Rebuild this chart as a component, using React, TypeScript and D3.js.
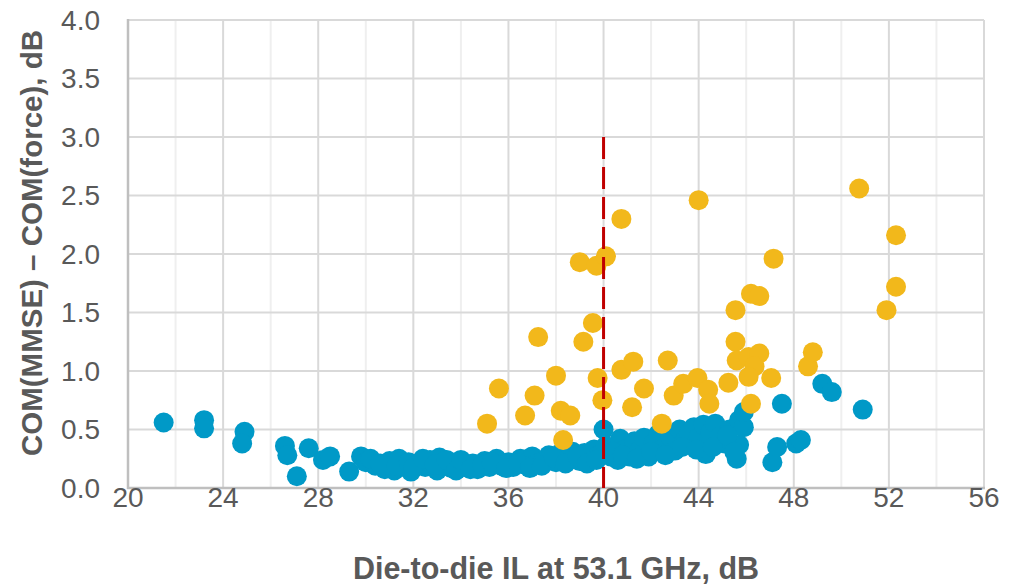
import React from "react";
import { scaleLinear, range } from "d3";

// x: die-to-die IL (dB), y: COM(MMSE) - COM(force) (dB)
const blueX = [
  21.5, 23.2, 23.2, 24.9, 24.8, 26.6, 26.7, 27.1, 27.6, 28.2, 28.5, 29.3, 29.8, 30.0,
  30.4, 30.8, 31.0, 31.2, 31.4, 31.6, 31.9, 32.2, 32.5, 32.7, 33.0, 33.1, 33.3, 33.6,
  33.9, 34.2, 34.5, 34.7, 35.0, 35.2, 35.5, 35.7, 36.0, 36.2, 36.5, 36.7, 37.0, 37.2,
  37.5, 37.7, 38.0, 38.2, 38.5, 38.7, 39.0, 39.2, 39.4, 39.6, 39.8, 40.0, 40.1, 40.3,
  40.6, 40.7, 40.9, 41.1, 41.3, 41.5, 41.7, 41.9, 42.1, 42.3, 42.5, 42.8, 43.0, 43.2,
  43.4, 43.6, 43.8, 44.0, 44.2, 44.3, 44.5, 44.7, 44.9, 45.1, 45.3, 45.6, 45.7, 45.7,
  45.9, 45.9, 47.1, 47.3, 47.5, 48.1, 48.3, 49.2, 49.6, 50.9,
  30.2, 30.6, 31.3, 31.8, 32.0, 32.4, 32.9, 33.4, 33.8, 34.0, 34.4, 34.9, 35.3, 35.9,
  36.4, 36.9, 37.4, 37.9, 38.4, 38.9, 39.3, 39.7, 40.4, 40.8, 41.4, 42.0, 42.6, 43.3,
  43.9, 44.6, 45.2, 45.5,
];
const blueY = [
  0.56, 0.58, 0.51, 0.48, 0.38, 0.36, 0.28, 0.10, 0.34, 0.24, 0.27, 0.14, 0.27, 0.22,
  0.19, 0.16, 0.23, 0.15, 0.25, 0.18, 0.14, 0.21, 0.18, 0.24, 0.15, 0.26, 0.19, 0.17,
  0.22, 0.18, 0.21, 0.16, 0.23, 0.18, 0.25, 0.19, 0.22, 0.18, 0.25, 0.2, 0.27, 0.21,
  0.24, 0.28, 0.22, 0.3, 0.25, 0.31, 0.23, 0.3, 0.24, 0.33, 0.28, 0.5, 0.36, 0.27,
  0.24, 0.42, 0.33, 0.27, 0.4, 0.32, 0.43, 0.27, 0.38, 0.46, 0.34, 0.44, 0.32, 0.5,
  0.4, 0.47, 0.52, 0.43, 0.54, 0.29, 0.48, 0.55, 0.44, 0.38, 0.5, 0.25, 0.37, 0.58,
  0.52, 0.65, 0.22, 0.35, 0.72, 0.38, 0.41, 0.89, 0.82, 0.67,
  0.25, 0.21, 0.19, 0.22, 0.17, 0.25, 0.2, 0.24, 0.15, 0.24, 0.16, 0.19, 0.22, 0.17,
  0.21, 0.17, 0.19, 0.26, 0.21, 0.27, 0.21, 0.24, 0.31, 0.28, 0.25, 0.31, 0.28, 0.35,
  0.33, 0.35, 0.45, 0.31,
];
const yellowX = [
  35.1, 35.6, 36.7, 37.1, 37.25, 38.0, 38.2, 38.3, 38.6, 39.0, 39.15, 39.55, 39.7, 40.1,
  39.75, 39.95, 40.75, 40.75, 41.2, 41.25, 41.7, 42.45, 42.7, 42.95, 43.35, 43.95, 44.0,
  44.4, 44.45, 45.25, 45.55, 45.55, 45.6, 46.1, 46.2, 46.55, 46.55, 46.35, 46.1, 46.2,
  47.05, 47.15, 48.6, 48.8, 50.75, 51.9, 52.3, 52.3,
];
const yellowY = [
  0.55, 0.85, 0.62, 0.79, 1.29, 0.96, 0.66, 0.41, 0.62, 1.93, 1.25, 1.41, 1.9, 1.98,
  0.94, 0.75, 2.3, 1.01, 0.69, 1.08, 0.85, 0.55, 1.09, 0.79, 0.89, 0.94, 2.46,
  0.84, 0.72, 0.9, 1.52, 1.25, 1.09, 1.12, 1.66, 1.64, 1.15, 1.04, 0.95, 0.72,
  0.94, 1.96, 1.04, 1.16, 2.56, 1.52, 1.72, 2.16,
];
const xTicks = [20, 24, 28, 32, 36, 40, 44, 48, 52, 56];
const yTicks = [0, 0.5, 1, 1.5, 2, 2.5, 3, 3.5, 4];
const thresholdX = 40;
const thresholdTop = 3;

const W = 1019;
const H = 586;
const left = 128;
const right = 984;
const top = 20;
const bottom = 488;
const txt = "#595959";
const font = "'Liberation Sans', Arial, sans-serif";

export default function App() {
  const x = scaleLinear().domain([20, 56]).range([left, right]);
  const y = scaleLinear().domain([0, 4]).range([bottom, top]);
  const minor = range(22, 56, 4);

  return (
    <div style={{ position: "absolute", left: 0, top: 0 }}>
      <svg width={W} height={H} style={{ display: "block", background: "#fff" }}>
        {/* gridlines */}
        {minor.map((v) => (
          <line key={"m" + v} x1={x(v)} x2={x(v)} y1={top} y2={bottom} stroke="#efefef" strokeWidth={2} />
        ))}
        {xTicks.map((v) => (
          <line key={"gx" + v} x1={x(v)} x2={x(v)} y1={top} y2={bottom} stroke="#d9d9d9" strokeWidth={2} />
        ))}
        {yTicks.map((v) => (
          <line key={"gy" + v} x1={left} x2={right} y1={y(v)} y2={y(v)} stroke="#d9d9d9" strokeWidth={2} />
        ))}
        {/* axes */}
        <line x1={left} x2={left} y1={top - 1} y2={bottom + 1} stroke="#bfbfbf" strokeWidth={2.5} />
        <line x1={left - 1} x2={right + 1} y1={bottom} y2={bottom} stroke="#bfbfbf" strokeWidth={2.5} />

        {/* points */}
        {blueX.map((v, i) => (
          <circle key={"b" + i} cx={x(v)} cy={y(blueY[i])} r={10} fill="#0099c7" />
        ))}
        {yellowX.map((v, i) => (
          <circle key={"y" + i} cx={x(v)} cy={y(yellowY[i])} r={10} fill="#f2b81b" />
        ))}

        {/* threshold */}
        <line
          x1={x(thresholdX)}
          x2={x(thresholdX)}
          y1={y(thresholdTop)}
          y2={bottom}
          stroke="#c00000"
          strokeWidth={3}
          strokeDasharray="22 8"
        />

        {/* tick labels */}
        {xTicks.map((v) => (
          <text key={"tx" + v} x={x(v)} y={507} textAnchor="middle" fontFamily={font} fontSize={28} fill={txt}>
            {v}
          </text>
        ))}
        {yTicks.map((v) => (
          <text key={"ty" + v} x={100} y={y(v)} dy="0.35em" textAnchor="end" fontFamily={font} fontSize={28} fill={txt}>
            {v.toFixed(1)}
          </text>
        ))}

        {/* titles */}
        <text x={(left + right) / 2} y={579} textAnchor="middle" fontFamily={font} fontSize={30.5} fontWeight="bold" fill={txt}>
          Die-to-die  IL at 53.1 GHz, dB
        </text>
        <text
          transform={`translate(42, ${243}) rotate(-90)`}
          textAnchor="middle"
          fontFamily={font}
          fontSize={29.5}
          fontWeight="bold"
          fill={txt}
        >
          COM(MMSE)  – COM(force), dB
        </text>
      </svg>
    </div>
  );
}
